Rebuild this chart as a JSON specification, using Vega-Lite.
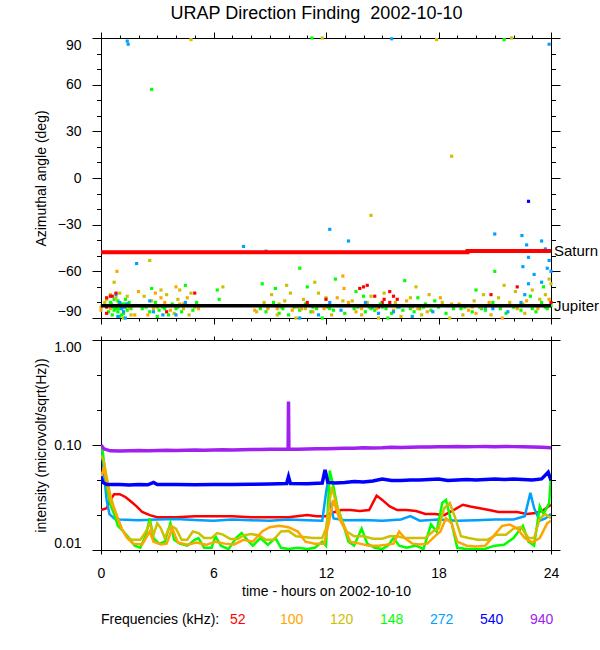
{
  "$schema": "https://vega.github.io/schema/vega-lite/v6.json",
  "padding": {"left": 33, "top": 5, "right": 0, "bottom": 0},
  "background": "white",
  "title": {"text": "URAP Direction Finding\u00a0 2002-10-10", "font": "Liberation Sans", "fontSize": 18, "fontWeight": "normal", "color": "black", "anchor": "middle", "offset": 8},
  "config": {
    "font": "Liberation Sans",
    "view": {"stroke": "black", "strokeWidth": 1},
    "axis": {
      "grid": false,
      "labelFont": "Liberation Sans", "labelFontSize": 14, "labelColor": "black",
      "titleFont": "Liberation Sans", "titleFontSize": 14, "titleFontWeight": "normal", "titleColor": "black",
      "domainColor": "black", "tickColor": "black", "tickWidth": 1
    }
  },
  "spacing": 10,
  "datasets": {
    "dirs": [
      {"t":0.5,"a":-80,"f":"148"},{"t":0.6,"a":-83,"f":"148"},{"t":0.7,"a":-85,"f":"148"},{"t":0.8,"a":-82,"f":"148"},{"t":0.9,"a":-86,"f":"148"},{"t":1.0,"a":-84,"f":"148"},{"t":1.1,"a":-81,"f":"148"},{"t":1.2,"a":-87,"f":"148"},{"t":1.3,"a":-83,"f":"148"},{"t":1.4,"a":-85,"f":"148"},{"t":1.5,"a":-80,"f":"148"},{"t":0.4,"a":-86,"f":"148"},{"t":0.7,"a":-78,"f":"148"},{"t":1.0,"a":-89,"f":"148"},{"t":1.3,"a":-78,"f":"148"},{"t":1.6,"a":-84,"f":"148"},{"t":0.9,"a":-79,"f":"148"},{"t":1.1,"a":-88,"f":"148"},{"t":0.6,"a":-88,"f":"148"},{"t":1.7,"a":-82,"f":"148"},{"t":0.45,"a":-82,"f":"148"},{"t":0.85,"a":-84,"f":"148"},
      {"t":0.55,"a":-81,"f":"148"},{"t":0.75,"a":-84,"f":"148"},{"t":1.05,"a":-83,"f":"148"},{"t":1.25,"a":-81,"f":"148"},{"t":2.4,"a":-83,"f":"148"},{"t":3.4,"a":-84,"f":"148"},{"t":4.1,"a":-83,"f":"148"},{"t":8.9,"a":-83,"f":"148"},{"t":9.6,"a":-83,"f":"148"},{"t":10.4,"a":-82,"f":"148"},{"t":11.3,"a":-83,"f":"148"},{"t":12.2,"a":-84,"f":"148"},{"t":13.7,"a":-83,"f":"148"},{"t":14.4,"a":-84,"f":"148"},{"t":15.0,"a":-83,"f":"148"},{"t":15.7,"a":-82,"f":"148"},{"t":16.5,"a":-84,"f":"148"},{"t":17.2,"a":-83,"f":"148"},{"t":19.4,"a":-83,"f":"148"},{"t":20.3,"a":-84,"f":"148"},{"t":21.1,"a":-82,"f":"148"},{"t":22.2,"a":-83,"f":"148"},{"t":23.0,"a":-84,"f":"148"},{"t":23.7,"a":-83,"f":"148"},
      {"t":0.95,"a":-81,"f":"120"},{"t":3.0,"a":-83,"f":"120"},{"t":9.5,"a":-81,"f":"120"},{"t":10.9,"a":-84,"f":"120"},{"t":14.9,"a":-82,"f":"120"},{"t":16.6,"a":-83,"f":"120"},{"t":20.6,"a":-82,"f":"120"},{"t":22.5,"a":-81,"f":"120"},
      {"t":1.5,"a":-83,"f":"100"},{"t":4.4,"a":-81,"f":"100"},{"t":10.5,"a":-83,"f":"100"},{"t":13.9,"a":-84,"f":"100"},{"t":17.2,"a":-82,"f":"100"},{"t":19.8,"a":-83,"f":"100"},{"t":21.9,"a":-82,"f":"100"},
      {"t":0.7,"a":-82,"f":"272"},{"t":1.25,"a":-83,"f":"272"},{"t":14.5,"a":-83,"f":"272"},{"t":20.9,"a":-84,"f":"272"},
      {"t":14.8,"a":-83,"f":"52"},{"t":15.2,"a":-82,"f":"52"},
      {"t":0.0,"a":-83,"f":"120"},{"t":0.2,"a":-80,"f":"120"},{"t":0.5,"a":-75,"f":"120"},{"t":0.8,"a":-77,"f":"120"},{"t":1.0,"a":-74,"f":"120"},{"t":1.4,"a":-76,"f":"120"},{"t":1.6,"a":-88,"f":"120"},{"t":0.3,"a":-78,"f":"120"},{"t":1.2,"a":-90,"f":"120"},{"t":0.7,"a":-67,"f":"120"},{"t":2.6,"a":-53,"f":"120"},
      {"t":0.0,"a":-85,"f":"100"},{"t":0.05,"a":-82,"f":"100"},{"t":0.85,"a":-60,"f":"100"},{"t":0.5,"a":-84,"f":"100"},{"t":1.2,"a":-86,"f":"100"},{"t":1.8,"a":-88,"f":"100"},{"t":2.1,"a":-82,"f":"100"},
      {"t":1.0,"a":-80,"f":"272"},{"t":1.1,"a":-84,"f":"272"},{"t":1.3,"a":-90,"f":"272"},{"t":1.2,"a":-86,"f":"272"},{"t":0.9,"a":-89,"f":"272"},{"t":1.4,"a":-81,"f":"272"},{"t":0.8,"a":-75,"f":"272"},{"t":1.9,"a":-55,"f":"272"},{"t":1.4,"a":88,"f":"272"},{"t":1.45,"a":86,"f":"272"},
      {"t":0.3,"a":-77,"f":"52"},{"t":0.5,"a":-76,"f":"52"},{"t":0.6,"a":-76,"f":"52"},{"t":0.3,"a":-83,"f":"52"},{"t":0.3,"a":-87,"f":"52"},{"t":0.8,"a":-74,"f":"52"},
      {"t":2.2,"a":-84,"f":"148"},{"t":2.5,"a":-82,"f":"148"},{"t":2.6,"a":-86,"f":"148"},{"t":2.9,"a":-80,"f":"148"},{"t":3.1,"a":-85,"f":"148"},{"t":3.3,"a":-83,"f":"148"},{"t":3.6,"a":-88,"f":"148"},{"t":3.8,"a":-81,"f":"148"},{"t":4.0,"a":-84,"f":"148"},{"t":4.3,"a":-86,"f":"148"},{"t":4.6,"a":-82,"f":"148"},{"t":4.9,"a":-85,"f":"148"},{"t":5.1,"a":-80,"f":"148"},{"t":3.0,"a":-89,"f":"148"},{"t":2.7,"a":-71,"f":"148"},{"t":4.5,"a":-69,"f":"148"},{"t":2.7,"a":57,"f":"148"},
      {"t":2.3,"a":-76,"f":"120"},{"t":2.7,"a":-79,"f":"120"},{"t":2.8,"a":-84,"f":"120"},{"t":3.2,"a":-72,"f":"120"},{"t":3.5,"a":-75,"f":"120"},{"t":3.6,"a":-82,"f":"120"},{"t":4.1,"a":-78,"f":"120"},{"t":4.2,"a":-72,"f":"120"},{"t":4.4,"a":-84,"f":"120"},{"t":4.7,"a":-88,"f":"120"},{"t":4.8,"a":-74,"f":"120"},{"t":5.0,"a":-83,"f":"120"},{"t":3.9,"a":-87,"f":"120"},{"t":4.8,"a":89,"f":"120"},
      {"t":2.5,"a":-88,"f":"100"},{"t":2.9,"a":-74,"f":"100"},{"t":3.2,"a":-77,"f":"100"},{"t":3.4,"a":-80,"f":"100"},{"t":4.0,"a":-70,"f":"100"},{"t":4.2,"a":-81,"f":"100"},{"t":4.6,"a":-77,"f":"100"},{"t":5.2,"a":-84,"f":"100"},{"t":3.7,"a":-85,"f":"100"},{"t":2.0,"a":-73,"f":"100"},
      {"t":2.8,"a":-86,"f":"272"},{"t":3.3,"a":-88,"f":"272"},{"t":4.0,"a":-88,"f":"272"},{"t":4.5,"a":-80,"f":"272"},{"t":2.6,"a":-79,"f":"272"},
      {"t":3.5,"a":-86,"f":"52"},{"t":5.0,"a":-74,"f":"52"},
      {"t":6.2,"a":-72,"f":"148"},{"t":6.3,"a":-78,"f":"148"},{"t":7.0,"a":-82,"f":"148"},{"t":6.5,"a":-70,"f":"120"},{"t":7.6,"a":-44,"f":"272"},{"t":8.8,"a":-47,"f":"272"},
      {"t":8.5,"a":-84,"f":"148"},{"t":8.8,"a":-86,"f":"148"},{"t":9.0,"a":-82,"f":"148"},{"t":9.2,"a":-80,"f":"148"},{"t":9.5,"a":-87,"f":"148"},{"t":9.7,"a":-84,"f":"148"},{"t":10.0,"a":-88,"f":"148"},{"t":10.3,"a":-83,"f":"148"},{"t":10.6,"a":-85,"f":"148"},{"t":10.9,"a":-81,"f":"148"},{"t":11.2,"a":-86,"f":"148"},{"t":11.5,"a":-84,"f":"148"},{"t":11.8,"a":-90,"f":"148"},{"t":12.1,"a":-83,"f":"148"},{"t":12.4,"a":-85,"f":"148"},{"t":12.7,"a":-82,"f":"148"},{"t":13.0,"a":-87,"f":"148"},{"t":9.3,"a":-71,"f":"148"},{"t":10.6,"a":-58,"f":"148"},{"t":8.6,"a":-68,"f":"148"},{"t":11.0,"a":-70,"f":"148"},{"t":12.5,"a":-65,"f":"148"},{"t":11.25,"a":90,"f":"148"},
      {"t":8.3,"a":-86,"f":"120"},{"t":8.7,"a":-80,"f":"120"},{"t":9.1,"a":-75,"f":"120"},{"t":9.4,"a":-88,"f":"120"},{"t":9.8,"a":-79,"f":"120"},{"t":10.1,"a":-74,"f":"120"},{"t":10.4,"a":-90,"f":"120"},{"t":10.8,"a":-78,"f":"120"},{"t":11.1,"a":-82,"f":"120"},{"t":11.6,"a":-74,"f":"120"},{"t":12.0,"a":-77,"f":"120"},{"t":12.3,"a":-88,"f":"120"},{"t":12.9,"a":-79,"f":"120"},{"t":9.9,"a":-69,"f":"120"},{"t":11.4,"a":-67,"f":"120"},{"t":11.8,"a":90,"f":"120"},
      {"t":8.2,"a":-85,"f":"100"},{"t":8.9,"a":-84,"f":"100"},{"t":9.4,"a":-84,"f":"100"},{"t":10.2,"a":-85,"f":"100"},{"t":10.7,"a":-84,"f":"100"},{"t":11.3,"a":-86,"f":"100"},{"t":11.9,"a":-84,"f":"100"},{"t":12.6,"a":-77,"f":"100"},{"t":13.2,"a":-80,"f":"100"},{"t":9.6,"a":-82,"f":"100"},{"t":12.9,"a":-63,"f":"100"},{"t":12.96,"a":-71,"f":"100"},
      {"t":9.3,"a":-82,"f":"272"},{"t":10.6,"a":-90,"f":"272"},{"t":11.6,"a":-88,"f":"272"},{"t":12.2,"a":-80,"f":"272"},{"t":12.8,"a":-85,"f":"272"},{"t":12.2,"a":-33,"f":"272"},{"t":13.2,"a":-40.5,"f":"272"},
      {"t":11.0,"a":-80,"f":"52"},{"t":12.0,"a":-78,"f":"52"},
      {"t":13.8,"a":-71,"f":"52"},{"t":14.0,"a":-70,"f":"52"},{"t":14.2,"a":-69,"f":"52"},{"t":14.6,"a":-76,"f":"52"},{"t":15.1,"a":-78,"f":"52"},{"t":15.4,"a":-73,"f":"52"},{"t":15.6,"a":-76,"f":"52"},{"t":15.8,"a":-78,"f":"52"},{"t":15.0,"a":-80,"f":"52"},{"t":15.4,"a":-80,"f":"52"},
      {"t":13.5,"a":-84,"f":"148"},{"t":13.8,"a":-82,"f":"148"},{"t":14.1,"a":-86,"f":"148"},{"t":14.3,"a":-83,"f":"148"},{"t":14.6,"a":-85,"f":"148"},{"t":14.9,"a":-81,"f":"148"},{"t":15.2,"a":-84,"f":"148"},{"t":15.5,"a":-87,"f":"148"},{"t":15.8,"a":-83,"f":"148"},{"t":16.1,"a":-85,"f":"148"},{"t":16.4,"a":-82,"f":"148"},{"t":16.7,"a":-86,"f":"148"},{"t":17.0,"a":-84,"f":"148"},{"t":17.3,"a":-81,"f":"148"},{"t":17.6,"a":-85,"f":"148"},{"t":18.0,"a":-83,"f":"148"},{"t":18.4,"a":-87,"f":"148"},{"t":18.8,"a":-84,"f":"148"},{"t":14.0,"a":-76,"f":"148"},{"t":15.3,"a":-90,"f":"148"},{"t":16.9,"a":-77,"f":"148"},{"t":17.8,"a":-79,"f":"148"},{"t":13.6,"a":-73,"f":"148"},{"t":16.2,"a":-66,"f":"148"},
      {"t":13.4,"a":-79,"f":"120"},{"t":13.9,"a":-88,"f":"120"},{"t":14.4,"a":-76,"f":"120"},{"t":14.8,"a":-90,"f":"120"},{"t":15.1,"a":-74,"f":"120"},{"t":15.7,"a":-80,"f":"120"},{"t":16.0,"a":-89,"f":"120"},{"t":16.5,"a":-77,"f":"120"},{"t":17.1,"a":-88,"f":"120"},{"t":17.5,"a":-75,"f":"120"},{"t":18.2,"a":-80,"f":"120"},{"t":18.6,"a":-90,"f":"120"},{"t":16.8,"a":-70,"f":"120"},{"t":18.7,"a":14,"f":"120"},{"t":14.4,"a":-24,"f":"120"},{"t":17.9,"a":89,"f":"120"},
      {"t":13.6,"a":-86,"f":"100"},{"t":14.2,"a":-80,"f":"100"},{"t":14.7,"a":-84,"f":"100"},{"t":15.6,"a":-85,"f":"100"},{"t":16.3,"a":-79,"f":"100"},{"t":16.9,"a":-84,"f":"100"},{"t":17.4,"a":-86,"f":"100"},{"t":18.1,"a":-77,"f":"100"},{"t":18.7,"a":-81,"f":"100"},
      {"t":14.1,"a":-80,"f":"272"},{"t":14.8,"a":-87,"f":"272"},{"t":15.9,"a":-83,"f":"272"},{"t":16.6,"a":-89,"f":"272"},{"t":17.7,"a":-86,"f":"272"},{"t":18.5,"a":-82,"f":"272"},{"t":15.6,"a":-86,"f":"272"},{"t":15.5,"a":89.5,"f":"272"},
      {"t":19.2,"a":-84,"f":"148"},{"t":19.5,"a":-82,"f":"148"},{"t":19.8,"a":-86,"f":"148"},{"t":20.2,"a":-83,"f":"148"},{"t":20.5,"a":-85,"f":"148"},{"t":20.9,"a":-80,"f":"148"},{"t":21.3,"a":-84,"f":"148"},{"t":21.6,"a":-87,"f":"148"},{"t":22.0,"a":-83,"f":"148"},{"t":22.4,"a":-85,"f":"148"},{"t":22.8,"a":-82,"f":"148"},{"t":23.2,"a":-86,"f":"148"},{"t":23.5,"a":-80,"f":"148"},{"t":23.8,"a":-84,"f":"148"},{"t":24.0,"a":-82,"f":"148"},{"t":20.0,"a":-72,"f":"148"},{"t":21.0,"a":-60,"f":"148"},{"t":22.9,"a":-76,"f":"148"},{"t":23.6,"a":-70,"f":"148"},{"t":21.5,"a":89,"f":"148"},
      {"t":19.3,"a":-88,"f":"120"},{"t":19.9,"a":-79,"f":"120"},{"t":20.4,"a":-75,"f":"120"},{"t":20.8,"a":-88,"f":"120"},{"t":21.2,"a":-77,"f":"120"},{"t":21.8,"a":-80,"f":"120"},{"t":22.1,"a":-73,"f":"120"},{"t":22.6,"a":-87,"f":"120"},{"t":23.0,"a":-72,"f":"120"},{"t":23.4,"a":-78,"f":"120"},{"t":23.9,"a":-65,"f":"120"},{"t":23.7,"a":-75,"f":"120"},{"t":24.0,"a":-68,"f":"120"},{"t":21.5,"a":-69,"f":"120"},{"t":21.9,"a":90,"f":"120"},
      {"t":19.1,"a":-81,"f":"100"},{"t":19.6,"a":-85,"f":"100"},{"t":20.3,"a":-83,"f":"100"},{"t":20.7,"a":-80,"f":"100"},{"t":21.4,"a":-90,"f":"100"},{"t":22.2,"a":-84,"f":"100"},{"t":22.7,"a":-79,"f":"100"},{"t":23.3,"a":-84,"f":"100"},{"t":23.9,"a":-78,"f":"100"},{"t":20.0,"a":-87,"f":"100"},
      {"t":22.4,"a":-80,"f":"272"},{"t":22.6,"a":-75,"f":"272"},{"t":22.8,"a":-68,"f":"272"},{"t":23.1,"a":-62,"f":"272"},{"t":22.5,"a":-57,"f":"272"},{"t":22.8,"a":-51,"f":"272"},{"t":22.7,"a":-43,"f":"272"},{"t":22.45,"a":-37,"f":"272"},{"t":23.5,"a":-40.5,"f":"272"},{"t":23.7,"a":-45.6,"f":"272"},{"t":23.9,"a":-53,"f":"272"},{"t":23.5,"a":-67,"f":"272"},{"t":23.8,"a":-58,"f":"272"},{"t":24.0,"a":-60,"f":"272"},{"t":21.0,"a":-36,"f":"272"},{"t":20.5,"a":-83,"f":"272"},{"t":21.7,"a":-86,"f":"272"},{"t":23.9,"a":86,"f":"272"},
      {"t":22.8,"a":-15,"f":"540"},
      {"t":22.2,"a":-70,"f":"52"},{"t":20.8,"a":-75,"f":"52"},{"t":24.0,"a":-80,"f":"52"}
    ],
    "saturn": [{"t":0,"a":-47.7},{"t":19.55,"a":-46.9},{"t":24,"a":-46.9}],
    "jupiter": [{"t":0,"a":-82.1},{"t":24,"a":-82.1}],
    "bodies": [{"t":24,"a":-46.9,"name":"Saturn"},{"t":24,"a":-82.1,"name":"Jupiter"}],
    "intensity": [
      {"t":0,"f":"940","v":0.1},{"t":0.15,"f":"940","v":0.092},{"t":0.5,"f":"940","v":0.088},{"t":1,"f":"940","v":0.0875},{"t":1.5,"f":"940","v":0.088},{"t":2,"f":"940","v":0.0885},{"t":2.5,"f":"940","v":0.088},{"t":3,"f":"940","v":0.0885},{"t":3.5,"f":"940","v":0.089},{"t":4,"f":"940","v":0.0885},{"t":4.5,"f":"940","v":0.089},{"t":5,"f":"940","v":0.0895},{"t":5.5,"f":"940","v":0.089},{"t":6,"f":"940","v":0.0895},{"t":6.5,"f":"940","v":0.09},{"t":7,"f":"940","v":0.0895},{"t":7.5,"f":"940","v":0.09},{"t":8,"f":"940","v":0.0905},{"t":8.5,"f":"940","v":0.0905},{"t":9,"f":"940","v":0.091},{"t":9.5,"f":"940","v":0.091},{"t":9.98,"f":"940","v":0.0915},{"t":10.0,"f":"940","v":0.26},{"t":10.02,"f":"940","v":0.0915},{"t":10.5,"f":"940","v":0.091},{"t":11,"f":"940","v":0.0915},{"t":11.5,"f":"940","v":0.092},{"t":12,"f":"940","v":0.092},{"t":12.5,"f":"940","v":0.0925},{"t":13,"f":"940","v":0.093},{"t":13.5,"f":"940","v":0.093},{"t":14,"f":"940","v":0.094},{"t":14.5,"f":"940","v":0.0935},{"t":15,"f":"940","v":0.094},{"t":15.5,"f":"940","v":0.095},{"t":16,"f":"940","v":0.0945},{"t":16.5,"f":"940","v":0.095},{"t":17,"f":"940","v":0.0955},{"t":17.5,"f":"940","v":0.0955},{"t":18,"f":"940","v":0.096},{"t":18.5,"f":"940","v":0.096},{"t":19,"f":"940","v":0.0965},{"t":19.5,"f":"940","v":0.096},{"t":20,"f":"940","v":0.0965},{"t":20.5,"f":"940","v":0.097},{"t":21,"f":"940","v":0.0965},{"t":21.5,"f":"940","v":0.097},{"t":22,"f":"940","v":0.0965},{"t":22.5,"f":"940","v":0.096},{"t":23,"f":"940","v":0.0955},{"t":23.5,"f":"940","v":0.095},{"t":24,"f":"940","v":0.094},
      {"t":0,"f":"540","v":0.05},{"t":0.1,"f":"540","v":0.044},{"t":0.3,"f":"540","v":0.042},{"t":1,"f":"540","v":0.042},{"t":1.5,"f":"540","v":0.0415},{"t":2,"f":"540","v":0.042},{"t":2.5,"f":"540","v":0.0418},{"t":2.8,"f":"540","v":0.044},{"t":3,"f":"540","v":0.042},{"t":4,"f":"540","v":0.042},{"t":5,"f":"540","v":0.0418},{"t":6,"f":"540","v":0.042},{"t":7,"f":"540","v":0.042},{"t":8,"f":"540","v":0.0422},{"t":9,"f":"540","v":0.0425},{"t":9.9,"f":"540","v":0.043},{"t":10.0,"f":"540","v":0.05},{"t":10.1,"f":"540","v":0.043},{"t":11,"f":"540","v":0.0428},{"t":11.8,"f":"540","v":0.0435},{"t":11.95,"f":"540","v":0.058},{"t":12.1,"f":"540","v":0.044},{"t":12.5,"f":"540","v":0.0435},{"t":13,"f":"540","v":0.044},{"t":13.5,"f":"540","v":0.045},{"t":14,"f":"540","v":0.0445},{"t":14.5,"f":"540","v":0.0455},{"t":15,"f":"540","v":0.0475},{"t":15.5,"f":"540","v":0.046},{"t":16,"f":"540","v":0.046},{"t":16.5,"f":"540","v":0.0465},{"t":17,"f":"540","v":0.0465},{"t":17.5,"f":"540","v":0.047},{"t":18,"f":"540","v":0.0475},{"t":18.5,"f":"540","v":0.046},{"t":19,"f":"540","v":0.0465},{"t":19.5,"f":"540","v":0.047},{"t":20,"f":"540","v":0.0465},{"t":20.5,"f":"540","v":0.047},{"t":21,"f":"540","v":0.0475},{"t":21.5,"f":"540","v":0.047},{"t":22,"f":"540","v":0.0475},{"t":22.5,"f":"540","v":0.047},{"t":23,"f":"540","v":0.0465},{"t":23.5,"f":"540","v":0.0475},{"t":23.85,"f":"540","v":0.055},{"t":24,"f":"540","v":0.046},
      {"t":0,"f":"52","v":0.024},{"t":0.3,"f":"52","v":0.025},{"t":0.5,"f":"52","v":0.03},{"t":0.7,"f":"52","v":0.034},{"t":1.0,"f":"52","v":0.034},{"t":1.3,"f":"52","v":0.032},{"t":1.6,"f":"52","v":0.029},{"t":1.9,"f":"52","v":0.026},{"t":2.2,"f":"52","v":0.023},{"t":2.6,"f":"52","v":0.0215},{"t":3,"f":"52","v":0.0205},{"t":4,"f":"52","v":0.0205},{"t":5,"f":"52","v":0.021},{"t":6,"f":"52","v":0.021},{"t":7,"f":"52","v":0.021},{"t":8,"f":"52","v":0.0205},{"t":9,"f":"52","v":0.0205},{"t":10,"f":"52","v":0.0205},{"t":11,"f":"52","v":0.0215},{"t":11.5,"f":"52","v":0.021},{"t":12,"f":"52","v":0.021},{"t":12.3,"f":"52","v":0.0225},{"t":12.8,"f":"52","v":0.024},{"t":13.3,"f":"52","v":0.024},{"t":13.8,"f":"52","v":0.0235},{"t":14.3,"f":"52","v":0.024},{"t":14.7,"f":"52","v":0.033},{"t":15.0,"f":"52","v":0.03},{"t":15.4,"f":"52","v":0.026},{"t":15.8,"f":"52","v":0.024},{"t":16.3,"f":"52","v":0.024},{"t":16.8,"f":"52","v":0.0235},{"t":17.3,"f":"52","v":0.022},{"t":17.8,"f":"52","v":0.022},{"t":18.3,"f":"52","v":0.0215},{"t":18.8,"f":"52","v":0.024},{"t":19.3,"f":"52","v":0.027},{"t":19.7,"f":"52","v":0.026},{"t":20.2,"f":"52","v":0.025},{"t":20.7,"f":"52","v":0.024},{"t":21.2,"f":"52","v":0.023},{"t":21.7,"f":"52","v":0.023},{"t":22.2,"f":"52","v":0.023},{"t":22.7,"f":"52","v":0.022},{"t":23.2,"f":"52","v":0.0225},{"t":23.6,"f":"52","v":0.024},{"t":24,"f":"52","v":0.027},
      {"t":0,"f":"272","v":0.095},{"t":0.1,"f":"272","v":0.07},{"t":0.2,"f":"272","v":0.045},{"t":0.3,"f":"272","v":0.03},{"t":0.45,"f":"272","v":0.022},{"t":0.7,"f":"272","v":0.02},{"t":1,"f":"272","v":0.0195},{"t":2,"f":"272","v":0.0192},{"t":3,"f":"272","v":0.0195},{"t":4,"f":"272","v":0.0197},{"t":5,"f":"272","v":0.0193},{"t":6,"f":"272","v":0.019},{"t":7,"f":"272","v":0.0195},{"t":8,"f":"272","v":0.0192},{"t":9,"f":"272","v":0.019},{"t":10,"f":"272","v":0.0195},{"t":11,"f":"272","v":0.0192},{"t":11.8,"f":"272","v":0.019},{"t":12.0,"f":"272","v":0.035},{"t":12.1,"f":"272","v":0.045},{"t":12.2,"f":"272","v":0.03},{"t":12.4,"f":"272","v":0.02},{"t":13,"f":"272","v":0.0192},{"t":14,"f":"272","v":0.0193},{"t":15,"f":"272","v":0.019},{"t":16,"f":"272","v":0.0195},{"t":16.5,"f":"272","v":0.021},{"t":17,"f":"272","v":0.019},{"t":18,"f":"272","v":0.0195},{"t":19,"f":"272","v":0.019},{"t":20,"f":"272","v":0.0192},{"t":21,"f":"272","v":0.0195},{"t":22,"f":"272","v":0.0195},{"t":22.6,"f":"272","v":0.021},{"t":22.9,"f":"272","v":0.035},{"t":23.1,"f":"272","v":0.025},{"t":23.4,"f":"272","v":0.019},{"t":23.7,"f":"272","v":0.02},{"t":24,"f":"272","v":0.022},
      {"t":0,"f":"148","v":0.1},{"t":0.1,"f":"148","v":0.085},{"t":0.3,"f":"148","v":0.04},{"t":0.5,"f":"148","v":0.027},{"t":0.7,"f":"148","v":0.022},{"t":0.9,"f":"148","v":0.017},{"t":1.2,"f":"148","v":0.015},{"t":1.5,"f":"148","v":0.013},{"t":1.8,"f":"148","v":0.011},{"t":2.1,"f":"148","v":0.0105},{"t":2.4,"f":"148","v":0.014},{"t":2.6,"f":"148","v":0.02},{"t":2.8,"f":"148","v":0.013},{"t":3.1,"f":"148","v":0.0115},{"t":3.4,"f":"148","v":0.012},{"t":3.7,"f":"148","v":0.018},{"t":3.9,"f":"148","v":0.0125},{"t":4.2,"f":"148","v":0.0115},{"t":4.6,"f":"148","v":0.011},{"t":5.0,"f":"148","v":0.0125},{"t":5.2,"f":"148","v":0.013},{"t":5.5,"f":"148","v":0.0105},{"t":5.9,"f":"148","v":0.0105},{"t":6.1,"f":"148","v":0.0135},{"t":6.4,"f":"148","v":0.011},{"t":6.8,"f":"148","v":0.0102},{"t":7.2,"f":"148","v":0.013},{"t":7.5,"f":"148","v":0.0145},{"t":7.8,"f":"148","v":0.0125},{"t":8.1,"f":"148","v":0.011},{"t":8.5,"f":"148","v":0.013},{"t":8.9,"f":"148","v":0.0112},{"t":9.3,"f":"148","v":0.013},{"t":9.6,"f":"148","v":0.0105},{"t":10.0,"f":"148","v":0.0102},{"t":10.5,"f":"148","v":0.0105},{"t":11.0,"f":"148","v":0.0102},{"t":11.4,"f":"148","v":0.0105},{"t":11.8,"f":"148","v":0.012},{"t":12.0,"f":"148","v":0.011},{"t":12.2,"f":"148","v":0.057},{"t":12.4,"f":"148","v":0.04},{"t":12.6,"f":"148","v":0.026},{"t":12.9,"f":"148","v":0.018},{"t":13.2,"f":"148","v":0.012},{"t":13.5,"f":"148","v":0.011},{"t":13.9,"f":"148","v":0.016},{"t":14.2,"f":"148","v":0.0115},{"t":14.6,"f":"148","v":0.0105},{"t":15.0,"f":"148","v":0.0102},{"t":15.3,"f":"148","v":0.011},{"t":15.6,"f":"148","v":0.013},{"t":15.9,"f":"148","v":0.011},{"t":16.3,"f":"148","v":0.0105},{"t":16.8,"f":"148","v":0.011},{"t":17.2,"f":"148","v":0.0102},{"t":17.6,"f":"148","v":0.0175},{"t":17.9,"f":"148","v":0.015},{"t":18.2,"f":"148","v":0.028},{"t":18.4,"f":"148","v":0.03},{"t":18.7,"f":"148","v":0.018},{"t":19.0,"f":"148","v":0.0105},{"t":19.5,"f":"148","v":0.0102},{"t":20.0,"f":"148","v":0.0102},{"t":20.5,"f":"148","v":0.0103},{"t":21.0,"f":"148","v":0.011},{"t":21.5,"f":"148","v":0.0112},{"t":22.0,"f":"148","v":0.013},{"t":22.5,"f":"148","v":0.017},{"t":22.8,"f":"148","v":0.012},{"t":23.1,"f":"148","v":0.011},{"t":23.4,"f":"148","v":0.026},{"t":23.6,"f":"148","v":0.022},{"t":23.9,"f":"148","v":0.028},{"t":24.0,"f":"148","v":0.05},
      {"t":0,"f":"120","v":0.08},{"t":0.15,"f":"120","v":0.07},{"t":0.3,"f":"120","v":0.05},{"t":0.5,"f":"120","v":0.033},{"t":0.7,"f":"120","v":0.025},{"t":0.9,"f":"120","v":0.02},{"t":1.1,"f":"120","v":0.016},{"t":1.4,"f":"120","v":0.013},{"t":1.7,"f":"120","v":0.0125},{"t":2.1,"f":"120","v":0.0125},{"t":2.4,"f":"120","v":0.015},{"t":2.6,"f":"120","v":0.018},{"t":2.8,"f":"120","v":0.014},{"t":3.0,"f":"120","v":0.018},{"t":3.2,"f":"120","v":0.016},{"t":3.4,"f":"120","v":0.013},{"t":3.7,"f":"120","v":0.017},{"t":4.0,"f":"120","v":0.016},{"t":4.3,"f":"120","v":0.0125},{"t":4.6,"f":"120","v":0.0125},{"t":4.9,"f":"120","v":0.015},{"t":5.2,"f":"120","v":0.0145},{"t":5.5,"f":"120","v":0.013},{"t":5.9,"f":"120","v":0.013},{"t":6.2,"f":"120","v":0.0145},{"t":6.5,"f":"120","v":0.014},{"t":6.9,"f":"120","v":0.0127},{"t":7.3,"f":"120","v":0.0127},{"t":7.6,"f":"120","v":0.0138},{"t":8.0,"f":"120","v":0.0142},{"t":8.4,"f":"120","v":0.0138},{"t":8.8,"f":"120","v":0.0125},{"t":9.2,"f":"120","v":0.0125},{"t":9.6,"f":"120","v":0.015},{"t":10.0,"f":"120","v":0.0152},{"t":10.4,"f":"120","v":0.0135},{"t":10.8,"f":"120","v":0.0133},{"t":11.3,"f":"120","v":0.013},{"t":11.8,"f":"120","v":0.013},{"t":12.0,"f":"120","v":0.016},{"t":12.3,"f":"120","v":0.04},{"t":12.5,"f":"120","v":0.03},{"t":12.8,"f":"120","v":0.02},{"t":13.1,"f":"120","v":0.015},{"t":13.5,"f":"120","v":0.0135},{"t":14.0,"f":"120","v":0.0135},{"t":14.5,"f":"120","v":0.0128},{"t":15.0,"f":"120","v":0.0128},{"t":15.4,"f":"120","v":0.0135},{"t":15.8,"f":"120","v":0.0135},{"t":16.2,"f":"120","v":0.013},{"t":16.8,"f":"120","v":0.013},{"t":17.3,"f":"120","v":0.013},{"t":17.7,"f":"120","v":0.015},{"t":18.0,"f":"120","v":0.016},{"t":18.3,"f":"120","v":0.025},{"t":18.6,"f":"120","v":0.028},{"t":18.9,"f":"120","v":0.02},{"t":19.2,"f":"120","v":0.0135},{"t":19.6,"f":"120","v":0.013},{"t":20.1,"f":"120","v":0.0125},{"t":20.6,"f":"120","v":0.0125},{"t":21.1,"f":"120","v":0.014},{"t":21.6,"f":"120","v":0.014},{"t":22.0,"f":"120","v":0.016},{"t":22.4,"f":"120","v":0.0165},{"t":22.8,"f":"120","v":0.013},{"t":23.1,"f":"120","v":0.013},{"t":23.4,"f":"120","v":0.02},{"t":23.7,"f":"120","v":0.022},{"t":24.0,"f":"120","v":0.02},
      {"t":0,"f":"100","v":0.05},{"t":0.15,"f":"100","v":0.06},{"t":0.35,"f":"100","v":0.04},{"t":0.5,"f":"100","v":0.03},{"t":0.8,"f":"100","v":0.022},{"t":1.1,"f":"100","v":0.016},{"t":1.4,"f":"100","v":0.013},{"t":1.7,"f":"100","v":0.0115},{"t":2.2,"f":"100","v":0.0113},{"t":2.6,"f":"100","v":0.015},{"t":2.8,"f":"100","v":0.012},{"t":3.2,"f":"100","v":0.0113},{"t":3.5,"f":"100","v":0.0115},{"t":3.8,"f":"100","v":0.016},{"t":4.1,"f":"100","v":0.0118},{"t":4.6,"f":"100","v":0.0112},{"t":5.1,"f":"100","v":0.0118},{"t":5.6,"f":"100","v":0.0112},{"t":6.1,"f":"100","v":0.012},{"t":6.6,"f":"100","v":0.0115},{"t":7.1,"f":"100","v":0.0113},{"t":7.6,"f":"100","v":0.0125},{"t":8.1,"f":"100","v":0.012},{"t":8.6,"f":"100","v":0.015},{"t":9.0,"f":"100","v":0.0165},{"t":9.5,"f":"100","v":0.017},{"t":10.0,"f":"100","v":0.0165},{"t":10.5,"f":"100","v":0.015},{"t":10.9,"f":"100","v":0.012},{"t":11.4,"f":"100","v":0.0115},{"t":11.9,"f":"100","v":0.0115},{"t":12.2,"f":"100","v":0.02},{"t":12.4,"f":"100","v":0.03},{"t":12.7,"f":"100","v":0.02},{"t":13.0,"f":"100","v":0.016},{"t":13.3,"f":"100","v":0.012},{"t":13.8,"f":"100","v":0.0115},{"t":14.3,"f":"100","v":0.011},{"t":14.8,"f":"100","v":0.011},{"t":15.2,"f":"100","v":0.0112},{"t":15.6,"f":"100","v":0.0115},{"t":15.9,"f":"100","v":0.015},{"t":16.2,"f":"100","v":0.013},{"t":16.6,"f":"100","v":0.0115},{"t":17.0,"f":"100","v":0.0113},{"t":17.4,"f":"100","v":0.0115},{"t":17.8,"f":"100","v":0.0135},{"t":18.1,"f":"100","v":0.015},{"t":18.4,"f":"100","v":0.02},{"t":18.7,"f":"100","v":0.018},{"t":19.0,"f":"100","v":0.012},{"t":19.5,"f":"100","v":0.011},{"t":20.0,"f":"100","v":0.0108},{"t":20.5,"f":"100","v":0.011},{"t":21.0,"f":"100","v":0.014},{"t":21.4,"f":"100","v":0.017},{"t":21.8,"f":"100","v":0.0175},{"t":22.2,"f":"100","v":0.016},{"t":22.6,"f":"100","v":0.013},{"t":23.0,"f":"100","v":0.0118},{"t":23.4,"f":"100","v":0.013},{"t":23.8,"f":"100","v":0.018},{"t":24.0,"f":"100","v":0.019}
    ]
  },
  "vconcat": [
    {
      "width": 450,
      "height": 280,
      "layer": [
        {
          "data": {"name": "dirs"},
          "mark": {"type": "square", "size": 10, "opacity": 1},
          "encoding": {
            "x": {"field": "t", "type": "quantitative", "scale": {"domain": [0, 24], "nice": false},
              "axis": {"orient": "bottom", "values": [0,1,2,3,4,5,6,7,8,9,10,11,12,13,14,15,16,17,18,19,20,21,22,23,24], "labels": false, "title": null,
                "tickSize": {"condition": {"test": "datum.value % 6 === 0", "value": 6}, "value": 3}}},
            "y": {"field": "a", "type": "quantitative", "scale": {"domain": [-90, 90], "nice": false},
              "axis": {"values": [-90,-80,-70,-60,-50,-40,-30,-20,-10,0,10,20,30,40,50,60,70,80,90],
                "labelExpr": "datum.value % 30 === 0 ? datum.label : ''",
                "tickSize": {"condition": {"test": "datum.value % 30 === 0", "value": 9}, "value": 4.5},
                "labelPadding": 11, "labelFlush": true, "title": "Azimuthal angle (deg)", "titleX": -53}},
            "color": {"field": "f", "type": "nominal",
              "scale": {"domain": ["52","100","120","148","272","540","940"], "range": ["#ff0000","#ffa500","#ccc000","#00ff00","#00a0ff","#0000ff","#a020f0"]},
              "legend": {"orient": "bottom", "direction": "horizontal", "title": "Frequencies (kHz):", "titleOrient": "left",
                "titleFont": "Liberation Sans", "titleFontSize": 14, "titleFontWeight": "normal", "titleColor": "black", "titlePadding": 9,
                "labelFont": "Liberation Sans", "labelFontSize": 14, "labelOffset": -13,
                "symbolSize": 0, "symbolOpacity": 0, "symbolStrokeWidth": 0,
                "gridAlign": "all", "columnPadding": 25, "offset": 14,
                "encode": {"labels": {"update": {"fill": {"scale": "color", "field": "value"}}}}}}
          }
        },
        {
          "data": {"name": "saturn"},
          "mark": {"type": "line", "color": "#ff0000", "strokeWidth": 4, "interpolate": "step-after"},
          "encoding": {
            "x": {"field": "t", "type": "quantitative", "scale": {"domain": [0, 24], "nice": false},
              "axis": {"orient": "top", "values": [0,1,2,3,4,5,6,7,8,9,10,11,12,13,14,15,16,17,18,19,20,21,22,23,24], "labels": false, "title": null,
                "tickSize": {"condition": {"test": "datum.value % 6 === 0", "value": 6}, "value": 3}}},
            "y": {"field": "a", "type": "quantitative", "scale": {"domain": [-90, 90], "nice": false},
              "axis": {"orient": "right", "values": [-90,-80,-70,-60,-50,-40,-30,-20,-10,0,10,20,30,40,50,60,70,80,90], "labels": false, "title": null,
                "tickSize": {"condition": {"test": "datum.value % 30 === 0", "value": 9}, "value": 4.5}}}
          }
        },
        {
          "data": {"name": "jupiter"},
          "mark": {"type": "line", "color": "black", "strokeWidth": 3.5},
          "encoding": {
            "x": {"field": "t", "type": "quantitative", "scale": {"domain": [0, 24], "nice": false}, "axis": null},
            "y": {"field": "a", "type": "quantitative", "scale": {"domain": [-90, 90], "nice": false}, "axis": null}
          }
        },
        {
          "data": {"name": "bodies"},
          "mark": {"type": "text", "align": "left", "baseline": "middle", "dx": 3, "fontSize": 15, "font": "Liberation Sans", "color": "black"},
          "encoding": {
            "x": {"field": "t", "type": "quantitative", "scale": {"domain": [0, 24], "nice": false}, "axis": null},
            "y": {"field": "a", "type": "quantitative", "scale": {"domain": [-90, 90], "nice": false}, "axis": null},
            "text": {"field": "name"}
          }
        }
      ],
      "resolve": {"axis": {"x": "independent", "y": "independent"}}
    },
    {
      "width": 450,
      "height": 210,
      "data": {"name": "intensity"},
      "layer": [
        {
          "transform": [{"filter": "datum.f !== '540' && datum.f !== '940'"}],
          "mark": {"type": "line", "strokeWidth": 2.5, "clip": true},
          "encoding": {
            "x": {"field": "t", "type": "quantitative", "scale": {"domain": [0, 24], "nice": false},
              "axis": {"orient": "bottom", "values": [0,1,2,3,4,5,6,7,8,9,10,11,12,13,14,15,16,17,18,19,20,21,22,23,24],
                "labelExpr": "datum.value % 6 === 0 ? datum.label : ''", "labelPadding": 12, "labelFlush": false,
                "title": "time - hours on 2002-10-10", "titlePadding": 4,
                "tickSize": {"condition": {"test": "datum.value % 6 === 0", "value": 4}, "value": 2}}},
            "y": {"field": "v", "type": "quantitative", "scale": {"type": "log", "domain": [0.01, 1], "nice": false},
              "axis": {"values": [0.01, 0.02154, 0.04642, 0.1, 0.2154, 0.4642, 1],
                "labelExpr": "(datum.value === 0.01 || datum.value === 0.1 || datum.value === 1) ? format(datum.value, '.2f') : ''",
                "tickSize": {"condition": {"test": "datum.value === 0.01 || datum.value === 0.1 || datum.value === 1", "value": 9}, "value": 4.5},
                "labelPadding": 11, "labelFlush": true, "title": "intensity (microvolt/sqrt(Hz))", "titleX": -53}},
            "color": {"field": "f", "type": "nominal",
              "scale": {"domain": ["52","100","120","148","272","540","940"], "range": ["#ff0000","#ffa500","#ccc000","#00ff00","#00a0ff","#0000ff","#a020f0"]}}
          }
        },
        {
          "transform": [{"filter": "datum.f === '540' || datum.f === '940'"}],
          "mark": {"type": "line", "strokeWidth": 3.5, "clip": true},
          "encoding": {
            "x": {"field": "t", "type": "quantitative", "scale": {"domain": [0, 24], "nice": false},
              "axis": {"orient": "top", "values": [0,1,2,3,4,5,6,7,8,9,10,11,12,13,14,15,16,17,18,19,20,21,22,23,24], "labels": false, "title": null,
                "tickSize": {"condition": {"test": "datum.value % 6 === 0", "value": 4}, "value": 2}}},
            "y": {"field": "v", "type": "quantitative", "scale": {"type": "log", "domain": [0.01, 1], "nice": false},
              "axis": {"orient": "right", "values": [0.01, 0.02154, 0.04642, 0.1, 0.2154, 0.4642, 1], "labels": false, "title": null,
                "tickSize": {"condition": {"test": "datum.value === 0.01 || datum.value === 0.1 || datum.value === 1", "value": 9}, "value": 4.5}}},
            "color": {"field": "f", "type": "nominal",
              "scale": {"domain": ["52","100","120","148","272","540","940"], "range": ["#ff0000","#ffa500","#ccc000","#00ff00","#00a0ff","#0000ff","#a020f0"]}}
          }
        }
      ],
      "resolve": {"axis": {"x": "independent", "y": "independent"}}
    }
  ]
}
